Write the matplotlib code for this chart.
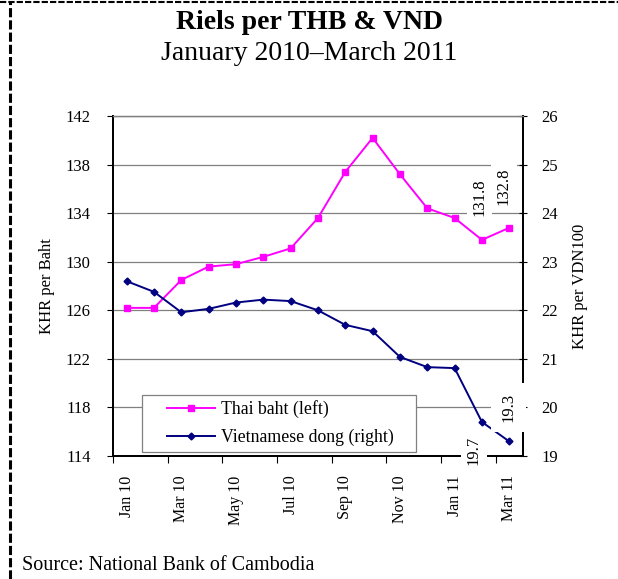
import matplotlib
matplotlib.use("Agg")
import matplotlib.pyplot as plt
from matplotlib.lines import Line2D
from matplotlib.patches import Rectangle

plt.rcParams['font.family'] = ['Liberation Serif', 'DejaVu Serif']

# --- data ---
months = ['Jan 10', 'Feb 10', 'Mar 10', 'Apr 10', 'May 10', 'Jun 10', 'Jul 10', 'Aug 10',
          'Sep 10', 'Oct 10', 'Nov 10', 'Dec 10', 'Jan 11', 'Feb 11', 'Mar 11']
thb = [126.2, 126.2, 128.5, 129.6, 129.8, 130.4, 131.1, 133.6,
       137.4, 140.2, 137.2, 134.4, 133.6, 131.8, 132.8]
vnd = [22.6, 22.38, 21.96, 22.03, 22.16, 22.22, 22.19, 22.0,
       21.7, 21.57, 21.04, 20.83, 20.81, 19.7, 19.3]
left_ticks = [114, 118, 122, 126, 130, 134, 138, 142]
right_ticks = [19, 20, 21, 22, 23, 24, 25, 26]

fig = plt.figure(figsize=(6.18, 5.79), dpi=100)
ax1 = fig.add_axes([0.1828, 0.2124, 0.6634, 0.5872])
ax2 = ax1.twinx()

x = list(range(len(months)))

# --- left axis: Thai baht ---
ax1.plot(x, thb, color='#FF00FF', lw=1.4, marker='s', ms=5, zorder=3)
ax1.set_ylim(114, 142)
ax1.set_yticks(left_ticks)
ax1.yaxis.grid(True, color='#808080', lw=0.9)
ax1.set_axisbelow(True)
ax1.set_xlim(-0.5, 14.5)
ax1.set_xticks([i - 0.5 for i in range(0, 15, 2)])
ax1.set_xticklabels([])
ax1.set_xticks(x[::2], minor=True)
ax1.set_xticklabels(months[::2], minor=True, rotation=90, fontsize=11.5)
ax1.tick_params(axis='x', which='major', direction='out', length=5, width=0.8)
ax1.tick_params(axis='x', which='minor', length=0, pad=14)
ax1.tick_params(axis='y', direction='out', length=4.5, width=0.8, labelsize=12, pad=11.5)
ax1.set_ylabel('KHR per Baht', fontsize=12, labelpad=8)

# --- right axis: Vietnamese dong ---
ax2.plot(x, vnd, color='#000080', lw=1.4, marker='D', ms=3.5, zorder=3)
ax2.set_ylim(19, 26)
ax2.set_yticks(right_ticks)
ax2.tick_params(axis='y', direction='inout', length=6, width=0.8, labelsize=12, pad=10)
ax2.set_ylabel('KHR per VDN100', fontsize=12, labelpad=10)

for ax in (ax1, ax2):
    ax.spines['top'].set_color('#808080')
    ax.spines['top'].set_linewidth(0.9)
    for s in ('left', 'right', 'bottom'):
        ax.spines[s].set_linewidth(1.3)

# --- data labels with white boxes ---
box = dict(facecolor='white', edgecolor='none', pad=3.5)
ax2.text(12.91, 135.3, '131.8', transform=ax1.transData, rotation=90, ha='center', va='center',
         fontsize=12, bbox=box, zorder=6, clip_on=False)
ax2.text(13.8, 136.2, '132.8', transform=ax1.transData, rotation=90, ha='center', va='center',
         fontsize=12, bbox=box, zorder=6, clip_on=False)
ax2.text(12.7, 19.12, '19.7', rotation=90, ha='center', va='center',
         fontsize=12, bbox=box, zorder=6, clip_on=False)
ax2.text(13.97, 20.0, '19.3', rotation=90, ha='center', va='center',
         fontsize=12, bbox=dict(facecolor='white', edgecolor='none', pad=7), zorder=6, clip_on=False)

# --- legend ---
ax2.add_patch(Rectangle((0.0707, 0.0118), 0.668, 0.168, transform=ax2.transAxes,
                        facecolor='white', edgecolor='#808080', lw=0.9, zorder=7))
handles = [Line2D([], [], color='#FF00FF', lw=1.4, marker='s', ms=5),
           Line2D([], [], color='#000080', lw=1.4, marker='D', ms=3.5)]
leg = ax2.legend(handles, ['Thai baht (left)', 'Vietnamese dong (right)'],
                 loc='center left', bbox_to_anchor=(0.132, 0.097), frameon=False,
                 fontsize=12.8, handlelength=2.7, handletextpad=0.35, labelspacing=0.6,
                 borderpad=0, borderaxespad=0)
leg.set_zorder(8)

# --- titles and source ---
fig.text(0.5, 0.962, 'Riels per THB & VND', ha='center', va='center', fontsize=20, fontweight='bold')
fig.text(0.5, 0.907, 'January 2010\u2013March 2011', ha='center', va='center', fontsize=20)
fig.text(0.036, 0.0225, 'Source: National Bank of Cambodia', ha='left', va='center', fontsize=14.5)

# dashed page border (top and left)
fig.add_artist(Line2D([0, 1], [0.996, 0.996], transform=fig.transFigure, color='black',
                      lw=1.5, ls=(0, (3, 1))))
fig.add_artist(Line2D([0.0155, 0.0155], [0, 0.996], transform=fig.transFigure, color='black',
                      lw=2.2, ls=(0, (3, 1))))

fig.savefig('out.png', dpi=100)
